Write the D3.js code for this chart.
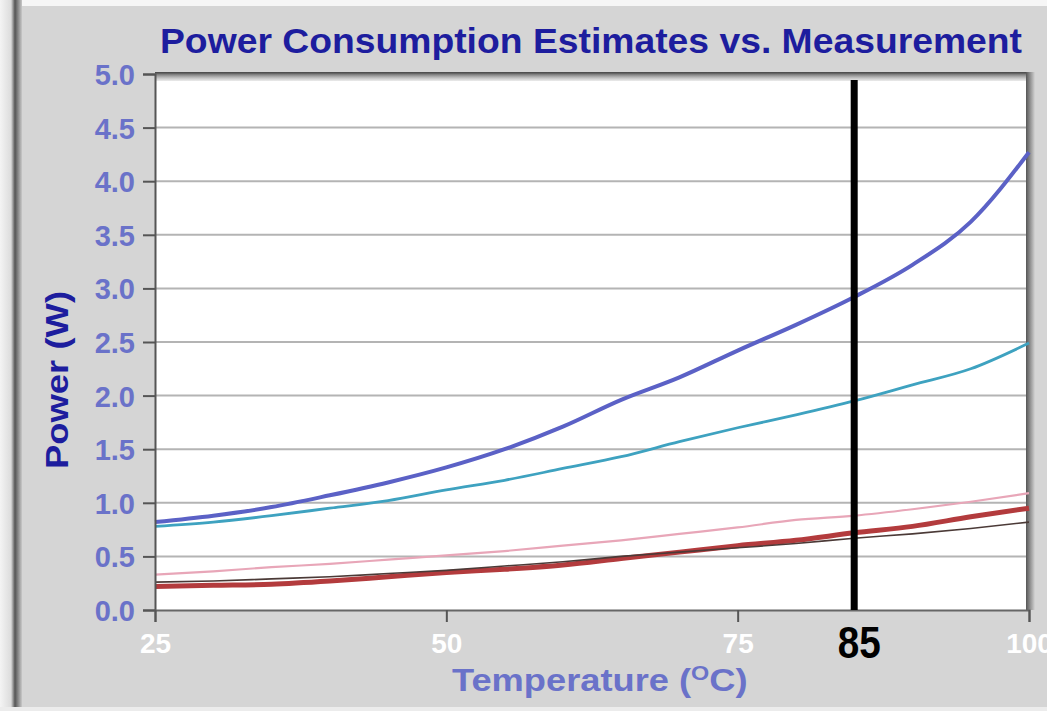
<!DOCTYPE html>
<html>
<head>
<meta charset="utf-8">
<script src="https://cdn.jsdelivr.net/npm/d3@7"></script>
<style>
  body { margin: 0; background: #fff; }
  svg { display: block; font-family: "Liberation Sans", Arial, sans-serif; }
</style>
</head>
<body>
<script>
// temperature samples (deg C) and measured / estimated power (W)
var temps   = [25, 30, 35, 40, 45, 50, 55, 60, 65, 70, 75, 80, 85, 90, 95, 100];
var blueEst = [0.82, 0.88, 0.96, 1.07, 1.19, 1.33, 1.50, 1.71, 1.96, 2.17, 2.42, 2.66, 2.92, 3.22, 3.62, 4.27];
var cyanEst = [0.78, 0.82, 0.88, 0.95, 1.02, 1.12, 1.21, 1.32, 1.43, 1.57, 1.70, 1.82, 1.95, 2.10, 2.25, 2.49];
var pinkEst = [0.33, 0.36, 0.40, 0.43, 0.47, 0.51, 0.55, 0.60, 0.65, 0.71, 0.77, 0.84, 0.88, 0.94, 1.01, 1.09];
var redMeas = [0.22, 0.23, 0.24, 0.27, 0.31, 0.35, 0.38, 0.42, 0.48, 0.54, 0.60, 0.65, 0.72, 0.78, 0.87, 0.95];
var darkMeas = [0.26, 0.27, 0.29, 0.31, 0.34, 0.37, 0.41, 0.45, 0.50, 0.54, 0.58, 0.62, 0.67, 0.71, 0.76, 0.82];

var yTicks = [0, 0.5, 1, 1.5, 2, 2.5, 3, 3.5, 4, 4.5, 5];
var xTicks = [25, 50, 75, 100];
var marker = 85;

var W = 1047, H = 711;
var plot = {left: 155, right: 1029, top: 74, bottom: 610};

var svg = d3.select("body").append("svg")
    .attr("width", W)
    .attr("height", H);

var defs = svg.append("defs");
var gTop = defs.append("linearGradient").attr("id", "shTop").attr("x1", 0).attr("y1", 0).attr("x2", 0).attr("y2", 1);
gTop.append("stop").attr("offset", "0%").attr("stop-color", "#444");
gTop.append("stop").attr("offset", "100%").attr("stop-color", "#9a9a9a").attr("stop-opacity", 0.2);
var gRight = defs.append("linearGradient").attr("id", "shRight").attr("x1", 0).attr("y1", 0).attr("x2", 1).attr("y2", 0);
gRight.append("stop").attr("offset", "0%").attr("stop-color", "#555");
gRight.append("stop").attr("offset", "100%").attr("stop-color", "#d4d4d4");
var gLeft = defs.append("linearGradient").attr("id", "edgeLeft").attr("x1", 0).attr("y1", 0).attr("x2", 1).attr("y2", 0);
gLeft.append("stop").attr("offset", "0%").attr("stop-color", "#f4f4f4");
gLeft.append("stop").attr("offset", "50%").attr("stop-color", "#dcdcdc");
gLeft.append("stop").attr("offset", "68%").attr("stop-color", "#555");
gLeft.append("stop").attr("offset", "100%").attr("stop-color", "#c8c8c8");

// panel background
svg.append("rect").attr("x", 0).attr("y", 0).attr("width", W).attr("height", H).attr("fill", "#d5d5d5");
svg.append("rect").attr("x", 0).attr("y", 0).attr("width", W).attr("height", 6).attr("fill", "#f6f6f6");
svg.append("rect").attr("x", 0).attr("y", 0).attr("width", 22).attr("height", H).attr("fill", "url(#edgeLeft)");
svg.append("rect").attr("x", 0).attr("y", H - 4).attr("width", W).attr("height", 4).attr("fill", "#ececec");

var x = d3.scaleLinear().domain([25, 100]).range([plot.left, plot.right]);
var y = d3.scaleLinear().domain([0, 5]).range([plot.bottom, plot.top]);

// plot area
svg.append("rect")
    .attr("x", plot.left).attr("y", plot.top)
    .attr("width", plot.right - plot.left).attr("height", plot.bottom - plot.top)
    .attr("fill", "#fff");

// grid lines
svg.append("g").selectAll("line").data(yTicks.slice(1, -1)).enter().append("line")
    .attr("x1", plot.left).attr("x2", plot.right)
    .attr("y1", function (d) { return y(d); })
    .attr("y2", function (d) { return y(d); })
    .attr("stroke", "#b4b4b4").attr("stroke-width", 2);

// frame shadows (top and right)
svg.append("rect").attr("x", plot.left).attr("y", plot.top - 2)
    .attr("width", plot.right - plot.left + 6).attr("height", 9).attr("fill", "url(#shTop)");
svg.append("rect").attr("x", plot.right - 3).attr("y", plot.top - 2)
    .attr("width", 9).attr("height", plot.bottom - plot.top + 2).attr("fill", "url(#shRight)");

// curves
var line = d3.line()
    .x(function (d) { return x(d[0]); })
    .y(function (d) { return y(d[1]); })
    .curve(d3.curveMonotoneX);

var series = [
    {vals: pinkEst, color: "#e8a6b8", w: 2.2},
    {vals: redMeas, color: "#b33b3d", w: 5},
    {vals: darkMeas, color: "#4b3a37", w: 1.6},
    {vals: cyanEst, color: "#3ea2c0", w: 2.8},
    {vals: blueEst, color: "#5b61c6", w: 4}
];

svg.append("g").selectAll("path").data(series).enter().append("path")
    .attr("d", function (s) { return line(temps.map(function (t, i) { return [t, s.vals[i]]; })); })
    .attr("fill", "none")
    .attr("stroke", function (s) { return s.color; })
    .attr("stroke-width", function (s) { return s.w; });

// axes
var yAxis = svg.append("g")
    .attr("transform", "translate(" + plot.left + ",0)")
    .call(d3.axisLeft(y).tickValues(yTicks).tickFormat(d3.format(".1f")).tickSize(12).tickPadding(8));
yAxis.select(".domain").attr("stroke", "#555").attr("stroke-width", 2);
yAxis.selectAll(".tick line").attr("stroke", "#555").attr("stroke-width", 2);
yAxis.selectAll(".tick text")
    .attr("fill", "#6a72c9")
    .attr("font-size", 29).attr("font-weight", "bold")
    .attr("font-family", "'Liberation Sans', Arial, sans-serif")
    .attr("dy", "0.36em");

var xAxis = svg.append("g")
    .attr("transform", "translate(0," + plot.bottom + ")")
    .call(d3.axisBottom(x).tickValues(xTicks).tickSize(12).tickPadding(8));
xAxis.select(".domain").attr("stroke", "#666").attr("stroke-width", 2);
xAxis.selectAll(".tick line").attr("stroke", "#555").attr("stroke-width", 2);
xAxis.selectAll(".tick text")
    .attr("fill", "#fff")
    .attr("font-size", 28).attr("font-weight", "bold")
    .attr("font-family", "'Liberation Sans', Arial, sans-serif")
    .attr("y", 43).attr("dy", 0);

// 85 degree marker
svg.append("line")
    .attr("x1", x(marker)).attr("x2", x(marker))
    .attr("y1", 80).attr("y2", plot.bottom)
    .attr("stroke", "#000").attr("stroke-width", 7);
svg.append("text")
    .attr("x", x(marker) + 5).attr("y", 658)
    .attr("text-anchor", "middle")
    .attr("font-family", "'Liberation Sans Narrow', 'Arial Narrow', 'Liberation Sans', sans-serif")
    .attr("font-weight", "bold").attr("font-size", 45)
    .attr("textLength", 43).attr("lengthAdjust", "spacingAndGlyphs")
    .attr("fill", "#000")
    .text(marker);

// title and axis titles
svg.append("text")
    .attr("x", 160).attr("y", 53)
    .attr("font-size", 35).attr("font-weight", "bold")
    .attr("fill", "#1d1d9e")
    .attr("textLength", 862).attr("lengthAdjust", "spacingAndGlyphs")
    .text("Power Consumption Estimates vs. Measurement");

svg.append("text")
    .attr("transform", "translate(68,380) rotate(-90)")
    .attr("text-anchor", "middle")
    .attr("font-size", 32).attr("font-weight", "bold")
    .attr("fill", "#1d1d9e")
    .attr("textLength", 178).attr("lengthAdjust", "spacingAndGlyphs")
    .text("Power (W)");

var xt = svg.append("text")
    .attr("transform", "translate(452,691) scale(1.17,1)")
    .attr("font-size", 31).attr("font-weight", "bold")
    .attr("fill", "#6a72c9");
xt.append("tspan").text("Temperature (");
xt.append("tspan").attr("font-size", 20).attr("dy", -11).text("O");
xt.append("tspan").attr("dy", 11).text("C)");
</script>
</body>
</html>
